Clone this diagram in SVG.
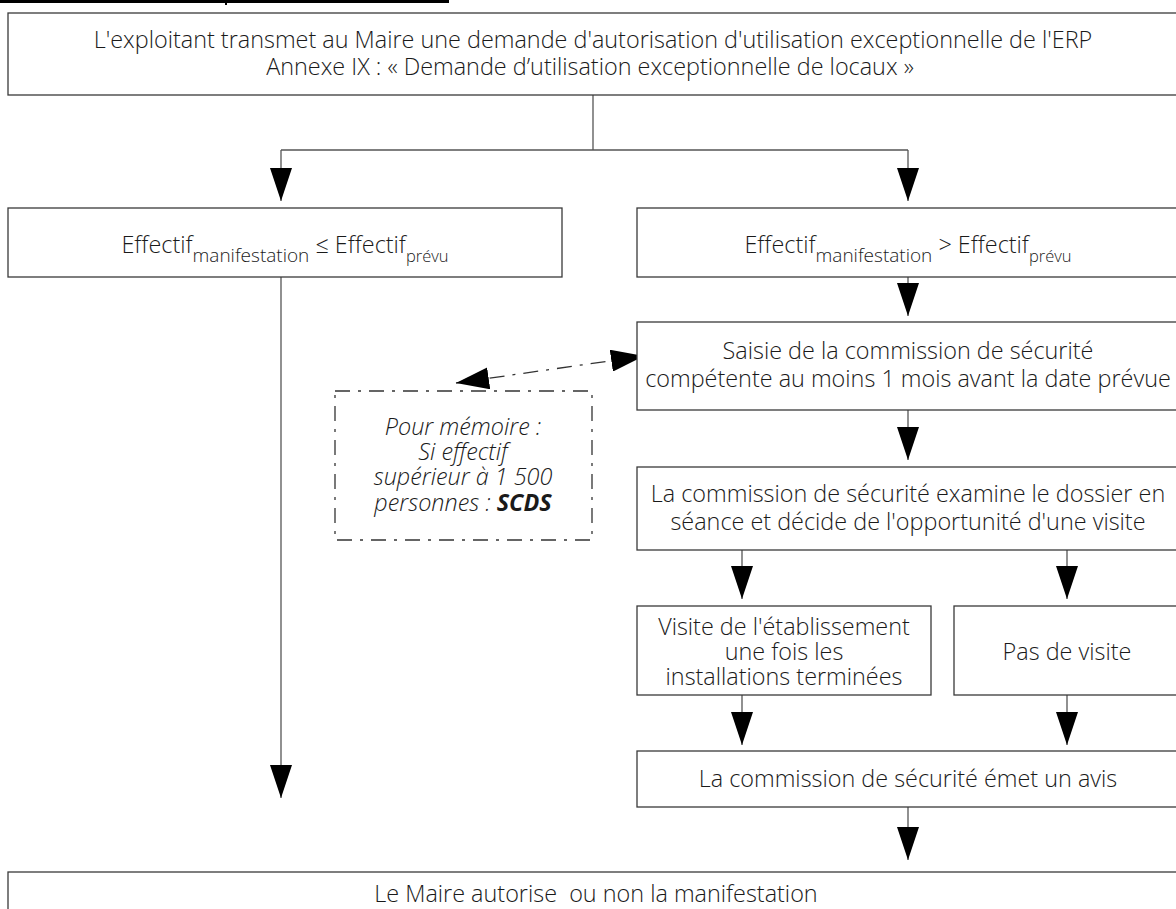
<svg xmlns="http://www.w3.org/2000/svg" width="1176" height="909" viewBox="0 0 1176 909">
  <defs>
    <marker id="head" markerUnits="userSpaceOnUse" viewBox="0 -11 33 22" refX="33" refY="0" markerWidth="33" markerHeight="22" orient="auto-start-reverse">
      <path d="M0,-11 L33,0 L0,11 Z" fill="#000"/>
    </marker>
    <style>
      .box { fill: #fff; stroke: #3a3a3a; stroke-width: 1.3; }
      .note { fill: none; stroke: #333; stroke-width: 1.3; stroke-dasharray: 15 8 3 8; }
      .wire { fill: none; stroke: #555; stroke-width: 1.3; }
      .dashed { fill: none; stroke: #333; stroke-width: 1.3; stroke-dasharray: 15 8 3 8; }
      text { font-family: "Open Sans", "Noto Sans", "DejaVu Sans", sans-serif; font-size: 23.4px; font-weight: 300; fill: #1a1a1a; text-anchor: middle; }
      .sub { font-size: 19px; }
      .sub2 { font-size: 16.5px; }
      .it { font-style: italic; }
    </style>
  </defs>

  <rect width="1176" height="909" fill="#fff"/>

  <!-- heading rule at the top edge -->
  <rect x="0" y="0" width="449" height="3" fill="#000"/>
  <rect x="225" y="0" width="2" height="5" fill="#000"/>

  <g id="connectors">
    <polyline class="wire" points="593,95 593,150"/>
    <polyline class="wire" points="281,150 908,150"/>
    <line class="wire" x1="281" y1="150" x2="281" y2="201" marker-end="url(#head)"/>
    <line class="wire" x1="908" y1="150" x2="908" y2="201" marker-end="url(#head)"/>
    <line class="wire" x1="281" y1="277" x2="281" y2="798" marker-end="url(#head)"/>
    <line class="wire" x1="908" y1="277" x2="908" y2="316" marker-end="url(#head)"/>
    <line class="wire" x1="908" y1="410" x2="908" y2="460" marker-end="url(#head)"/>
    <line class="wire" x1="742" y1="550" x2="742" y2="599" marker-end="url(#head)"/>
    <line class="wire" x1="1067" y1="550" x2="1067" y2="599" marker-end="url(#head)"/>
    <line class="wire" x1="742" y1="695" x2="742" y2="745" marker-end="url(#head)"/>
    <line class="wire" x1="1067" y1="695" x2="1067" y2="745" marker-end="url(#head)"/>
    <line class="wire" x1="908" y1="807" x2="908" y2="860" marker-end="url(#head)"/>
    <line class="dashed" x1="456" y1="383" x2="644" y2="356" marker-start="url(#head)" marker-end="url(#head)"/>
  </g>

  <g id="demande">
    <rect class="box" x="8" y="13" width="1180" height="82"/>
    <text x="593" y="48">L'exploitant transmet au Maire une demande d'autorisation d'utilisation exceptionnelle de l'ERP</text>
    <text x="590" y="75">Annexe IX : « Demande d’utilisation exceptionnelle de locaux »</text>
  </g>

  <g id="effectif-inferieur">
    <rect class="box" x="8" y="208" width="554" height="69"/>
    <text x="285" y="253">Effectif<tspan class="sub" dy="9">manifestation</tspan><tspan dy="-9"> ≤ Effectif</tspan><tspan class="sub2" dy="9">prévu</tspan></text>
  </g>

  <g id="effectif-superieur">
    <rect class="box" x="637" y="208" width="542" height="69"/>
    <text x="908" y="253">Effectif<tspan class="sub" dy="9">manifestation</tspan><tspan dy="-9"> &gt; Effectif</tspan><tspan class="sub2" dy="9">prévu</tspan></text>
  </g>

  <g id="saisie">
    <rect class="box" x="637" y="322" width="542" height="88"/>
    <text x="908" y="359">Saisie de la commission de sécurité</text>
    <text x="908" y="387">compétente au moins 1 mois avant la date prévue</text>
  </g>

  <g id="memo">
    <rect class="note" x="335" y="391" width="257" height="149"/>
    <text class="it" x="463" y="435">Pour mémoire :</text>
    <text class="it" x="463" y="460">Si effectif</text>
    <text class="it" x="463" y="485">supérieur à 1 500</text>
    <text class="it" x="463" y="511">personnes : <tspan font-weight="bold">SCDS</tspan></text>
  </g>

  <g id="examen">
    <rect class="box" x="637" y="467" width="542" height="83"/>
    <text x="908" y="502">La commission de sécurité examine le dossier en</text>
    <text x="908" y="530">séance et décide de l'opportunité d'une visite</text>
  </g>

  <g id="visite">
    <rect class="box" x="637" y="606" width="294" height="89"/>
    <text x="784" y="635">Visite de l'établissement</text>
    <text x="784" y="660">une fois les</text>
    <text x="784" y="685">installations terminées</text>
  </g>

  <g id="pas-de-visite">
    <rect class="box" x="954" y="606" width="225" height="89"/>
    <text x="1067" y="660">Pas de visite</text>
  </g>

  <g id="avis">
    <rect class="box" x="637" y="751" width="542" height="56"/>
    <text x="908" y="787">La commission de sécurité émet un avis</text>
  </g>

  <g id="decision">
    <rect class="box" x="8" y="872" width="1180" height="60"/>
    <text x="596" y="902" xml:space="preserve">Le Maire autorise  ou non la manifestation</text>
  </g>
</svg>
